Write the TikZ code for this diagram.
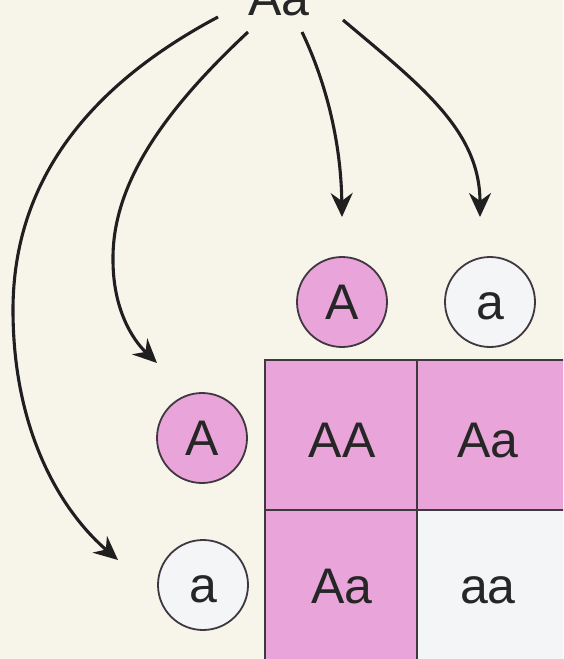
\documentclass[tikz,border=0pt]{standalone}
\usepackage{fontspec}
\setmainfont{Liberation Sans}
\usetikzlibrary{arrows.meta}
\definecolor{bgcream}{HTML}{F7F4EA}
\definecolor{pinkfill}{HTML}{E9A4DA}
\definecolor{paleblue}{HTML}{F4F5F7}
\definecolor{edgegray}{HTML}{403840}
\tikzset{
  lbl/.style={font=\fontsize{50}{50}\selectfont, text height=35pt, text depth=0pt, inner sep=0pt, text=black!85},
  allele/.style={circle, draw=edgegray, line width=1.8pt, minimum size=90pt, inner sep=0pt, lbl},
  cellbox/.style={draw=edgegray, line width=1.5pt},
  curvearrow/.style={line width=3.1pt, draw=black!88, -{Stealth[length=24pt,width=22pt,inset=8pt]}}
}
\begin{document}
\begin{tikzpicture}[x=1pt,y=-1pt]
\useasboundingbox (0,0) rectangle (563,659);
\clip (0,0) rectangle (563,659);
\fill[bgcream] (0,0) rectangle (563,659);

% parent genotype (cut by the top edge, as in the reference)
\node[lbl, anchor=base] (parent) at (279,15) {Aa};

% Punnett square cells
\fill[pinkfill] (265,360) rectangle (569,510);
\fill[pinkfill] (265,510) rectangle (417,662);
\fill[paleblue] (417,510) rectangle (569,662);
\draw[cellbox] (265,662) -- (265,360) -- (569,360);
\draw[cellbox] (265,510) -- (569,510);
\draw[cellbox] (417,360) -- (417,662);

\node[lbl] (cAA) at (342,440) {AA};
\node[lbl] (cAa1) at (488,440) {Aa};
\node[lbl] (cAa2) at (342,586) {Aa};
\node[lbl] (caa) at (488,586) {aa};

% gametes
\node[allele, fill=pinkfill] (gTopA) at (342,302) {A};
\node[allele, fill=paleblue] (gTopa) at (490,302) {a};
\node[allele, fill=pinkfill] (gLeftA) at (202,438) {A};
\node[allele, fill=paleblue] (gLefta) at (203,585) {a};

% arrow coordinates
\coordinate (s1) at (218,17);
\coordinate (s2) at (248,32);
\coordinate (s3) at (302,32);
\coordinate (s4) at (343,20);
\coordinate (e1) at (118,560);
\coordinate (e2) at (157,363);
\coordinate (e3) at (342,217);
\coordinate (e4) at (480,217);

\draw[curvearrow] (s1) .. controls (90,85) and (13,180) .. (13,310)
   .. controls (13,430) and (60,510) .. (e1);
\draw[curvearrow] (s2) .. controls (170,105) and (112,180) .. (113,260)
   .. controls (113,310) and (133,340) .. (e2);
\draw[curvearrow] (s3) .. controls (325,80) and (341,140) .. (e3);
\draw[curvearrow] (s4) .. controls (420,85) and (480,130) .. (e4);
\end{tikzpicture}
\end{document}
